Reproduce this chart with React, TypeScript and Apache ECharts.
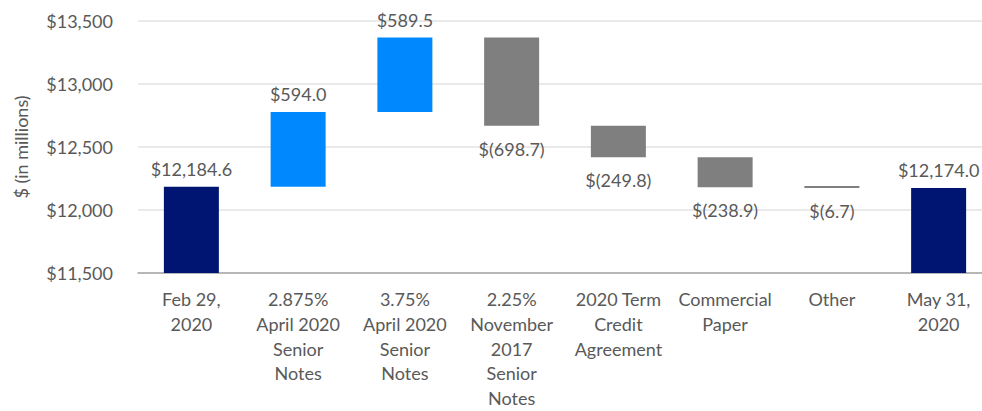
import React, { useEffect, useRef } from "react";
import * as echarts from "echarts";

const categories = [
  "Feb 29,\n2020",
  "2.875%\nApril 2020\nSenior\nNotes",
  "3.75%\nApril 2020\nSenior\nNotes",
  "2.25%\nNovember\n2017\nSenior\nNotes",
  "2020 Term\nCredit\nAgreement",
  "Commercial\nPaper",
  "Other",
  "May 31,\n2020",
];
// deltas: first and last are totals
const changes = [12184.6, 594.0, 589.5, -698.7, -249.8, -238.9, -6.7, 12174.0];
const kinds = ["total", "up", "up", "down", "down", "down", "down", "total"];
const labels = ["$12,184.6", "$594.0", "$589.5", "$(698.7)", "$(249.8)", "$(238.9)", "$(6.7)", "$12,174.0"];
const yTicks = { min: 11500, max: 13500, interval: 500 };

const COLORS: Record<string, string> = { total: "#001571", up: "#0088FF", down: "#7F7F7F" };
const FONT = "Lato";
const TEXT = "#595959";

export default function App() {
  const ref = useRef<HTMLDivElement>(null);
  useEffect(() => {
    if (!ref.current) return;
    const chart = echarts.init(ref.current, undefined, { renderer: "svg" });
    const base: number[] = [];
    const vis: any[] = [];
    let cum = 0;
    changes.forEach((d, i) => {
      const k = kinds[i];
      const lab = labels[i];
      if (k === "total") {
        base.push(0);
        cum = d;
        vis.push({
          value: d,
          itemStyle: { color: COLORS[k] },
          label: { show: true, position: "top", distance: 9, formatter: lab },
        });
      } else if (k === "up") {
        base.push(cum);
        cum += d;
        vis.push({
          value: d,
          itemStyle: { color: COLORS[k] },
          label: { show: true, position: "top", distance: 9, formatter: lab },
        });
      } else {
        cum += d;
        base.push(cum);
        vis.push({
          value: -d,
          itemStyle: { color: COLORS[k] },
          label: { show: true, position: "bottom", distance: 14, formatter: lab },
        });
      }
    });
    chart.setOption({
      animation: false,
      textStyle: { fontFamily: FONT },
      grid: { left: 138, top: 21, width: 854, bottom: 138, outerBoundsMode: "none", containLabel: false },
      xAxis: {
        type: "category",
        data: categories,
        axisLine: { lineStyle: { color: "#A6A6A6", width: 1.5 } },
        axisTick: { show: false },
        axisLabel: {
          interval: 0,
          color: TEXT,
          fontSize: 18,
          fontFamily: FONT,
          lineHeight: 24.6,
          margin: 14,
        },
      },
      yAxis: {
        type: "value",
        min: yTicks.min,
        max: yTicks.max,
        interval: yTicks.interval,
        name: "$ (in millions)",
        nameLocation: "middle",
        nameGap: 108,
        nameTextStyle: { color: TEXT, fontSize: 18, fontFamily: FONT },
        axisLine: { show: false },
        axisTick: { show: false },
        splitLine: { lineStyle: { color: "#E3E3E3", width: 1.5 } },
        axisLabel: {
          color: TEXT,
          fontSize: 18,
          fontFamily: FONT,
          margin: 25,
          formatter: (v: number) => "$" + v.toLocaleString("en-US"),
        },
      },
      series: [
        {
          type: "bar",
          stack: "w",
          data: base,
          itemStyle: { color: "transparent" },
          silent: true,
          barWidth: 55,
        },
        {
          type: "bar",
          stack: "w",
          data: vis,
          barWidth: 55,
          barMinHeight: 2,
          label: { color: TEXT, fontSize: 18, fontFamily: FONT },
        },
      ],
    });
    return () => chart.dispose();
  }, []);
  return (
    <div
      ref={ref}
      style={{ position: "fixed", left: 0, top: 0, width: 982, height: 411, background: "#fff" }}
    />
  );
}
